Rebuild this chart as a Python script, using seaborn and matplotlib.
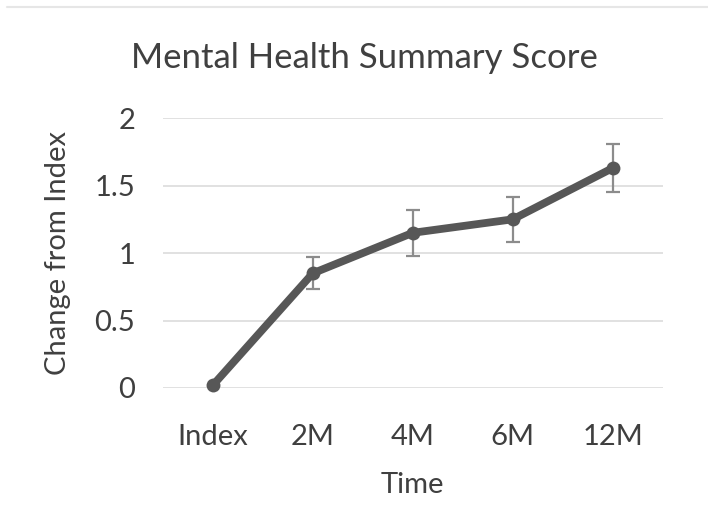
import numpy as np
import pandas as pd
import matplotlib
matplotlib.use("Agg")
import matplotlib.pyplot as plt
import seaborn as sns
from matplotlib.lines import Line2D

# data
time_points = ["Index", "2M", "4M", "6M", "12M"]
change_from_index = [0.02, 0.85, 1.15, 1.25, 1.63]
error_half = [np.nan, 0.12, 0.17, 0.165, 0.18]

df = pd.DataFrame({"Time": time_points, "Change": change_from_index, "Err": error_half})

sns.set_theme(style="white")
plt.rcParams["font.family"] = ["Lato", "DejaVu Sans"]

fig = plt.figure(figsize=(7.08, 5.25), dpi=100)
ax = fig.add_axes([0.230, 0.261, 0.706, 0.514])

line_col = "#575757"
ax.errorbar(np.arange(len(df))[1:], df["Change"][1:], yerr=df["Err"][1:], fmt="none",
            ecolor="#8c8c8c", elinewidth=1.6, capsize=5, capthick=1.6, zorder=2)
sns.lineplot(data=df, x="Time", y="Change", ax=ax, color=line_col, linewidth=5.6,
             marker="o", markersize=10, markeredgewidth=0, sort=False, zorder=3, clip_on=False)

ax.set_ylim(0, 2)
ax.set_xlim(-0.5, 4.5)
ax.set_yticks([0, 0.5, 1, 1.5, 2])
ax.set_yticklabels(["0", "0.5", "1", "1.5", "2"])
ax.yaxis.grid(True, color="#dcdcdc", linewidth=1.2)
ax.xaxis.grid(False)
ax.set_axisbelow(True)
for s in ax.spines.values():
    s.set_visible(False)
ax.tick_params(axis="both", length=0, labelsize=21, colors="#3f3f3f")
ax.tick_params(axis="x", pad=26)
ax.tick_params(axis="y", pad=20)

# title sits centred on the whole chart area, not on the plot area
ax.set_title("Mental Health Summary Score", fontsize=25, color="#404040", pad=36, x=0.404)
ax.set_xlabel("Time", fontsize=21, color="#404040", labelpad=16)
ax.set_ylabel("Change from Index", fontsize=21, color="#404040", labelpad=17)

# faint border line at the top of the image
fig.add_artist(Line2D([0.01, 1.0], [0.987, 0.987], color="#e6e6e6", linewidth=1.5,
                      transform=fig.transFigure))

fig.savefig("out.png", dpi=100)
